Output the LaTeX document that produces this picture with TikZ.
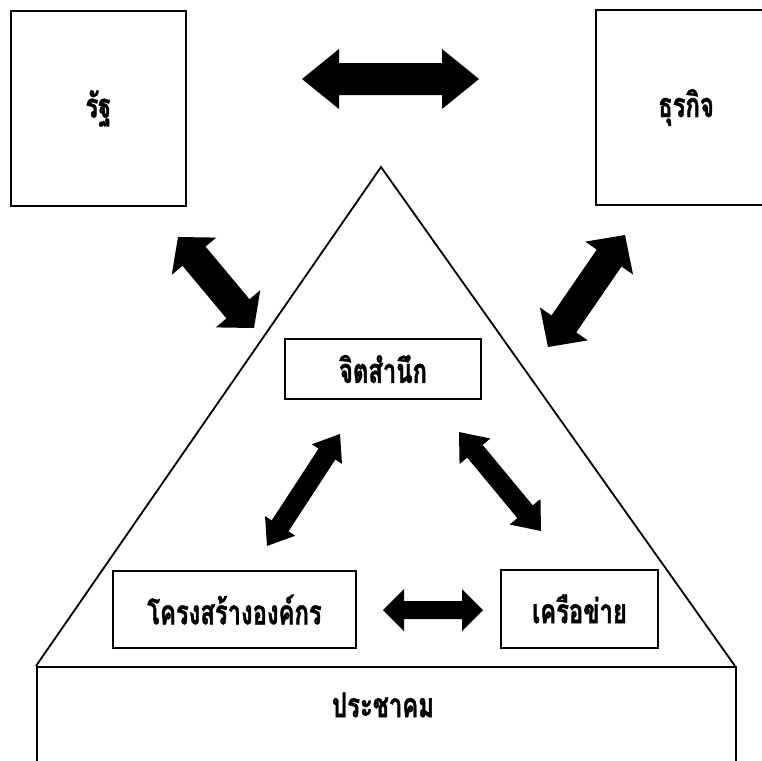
\documentclass[tikz,border=0pt]{standalone}
\usepackage{fontspec}
\newfontfamily\thai[Script=Thai, FakeStretch=0.7, FakeBold=1.2]{Loma}
\usetikzlibrary{calc}
\tikzset{
  thaitext/.style={font=\thai\bfseries\fontsize{34}{36}\selectfont},
  box/.style={draw, line width=1.7pt, inner sep=0pt, thaitext},
  thin/.style={draw, line width=1.8pt},
}
\newcommand\fatarrow[5]{%
  \coordinate (fa1) at ($(#1)!#3!(#2)$);
  \coordinate (fb1) at ($(#2)!#3!(#1)$);
  \fill (#1) -- ($(fa1)!#4!90:(#2)$) -- ($(fa1)!#5!90:(#2)$) -- ($(fb1)!#5!-90:(#1)$) -- ($(fb1)!#4!-90:(#1)$) -- (#2)
    -- ($(fb1)!#4!90:(#1)$) -- ($(fb1)!#5!90:(#1)$) -- ($(fa1)!#5!-90:(#2)$) -- ($(fa1)!#4!-90:(#2)$) -- cycle;
}
\begin{document}
\begin{tikzpicture}[x=1pt,y=-1pt]
\useasboundingbox[fill=white] (0,0) rectangle (762,760);
% triangle
\coordinate (apex) at (381,167);
\coordinate (bl) at (36,666);
\coordinate (br) at (735,666);
\draw[thin] (bl) -- (apex) -- (br);
% bottom box
\node[box, minimum width=699pt, minimum height=130pt, anchor=north west] (community) at (36,666) {};
\node[thaitext, inner sep=0pt] (communitytext) at (383,705) {ประชาคม};
% top boxes
\node[box, minimum width=175pt, minimum height=195pt] (state) at (98.5,108.5) {รัฐ};
\node[box, minimum width=180pt, minimum height=195pt] (business) at (686,107.5) {ธุรกิจ};
% inner boxes
\node[box, minimum width=196pt, minimum height=60pt] (conscious) at (383,369) {จิตสำนึก};
\node[box, minimum width=243pt, minimum height=77pt] (structure) at (234.5,609.5) {โครงสร้างองค์กร};
\node[box, minimum width=157pt, minimum height=78pt] (network) at (579.5,609) {เครือข่าย};
% arrow end points
\coordinate (t1) at (302,79);  \coordinate (t2) at (479,79);
\coordinate (ul1) at (178,237); \coordinate (ul2) at (254,328);
\coordinate (ur1) at (625,235); \coordinate (ur2) at (548,347);
\coordinate (ml1) at (340,434); \coordinate (ml2) at (267,546);
\coordinate (mr1) at (459,432); \coordinate (mr2) at (541,531);
\coordinate (b1) at (383,610); \coordinate (b2) at (483,610);
\fatarrow{t1}{t2}{37pt}{30pt}{16pt}
\fatarrow{ul1}{ul2}{25pt}{29pt}{15pt}
\fatarrow{ur1}{ur2}{28pt}{29pt}{15pt}
\fatarrow{ml1}{ml2}{24pt}{18pt}{10pt}
\fatarrow{mr1}{mr2}{25pt}{20pt}{10pt}
\fatarrow{b1}{b2}{21pt}{21pt}{9pt}
\end{tikzpicture}
\end{document}
